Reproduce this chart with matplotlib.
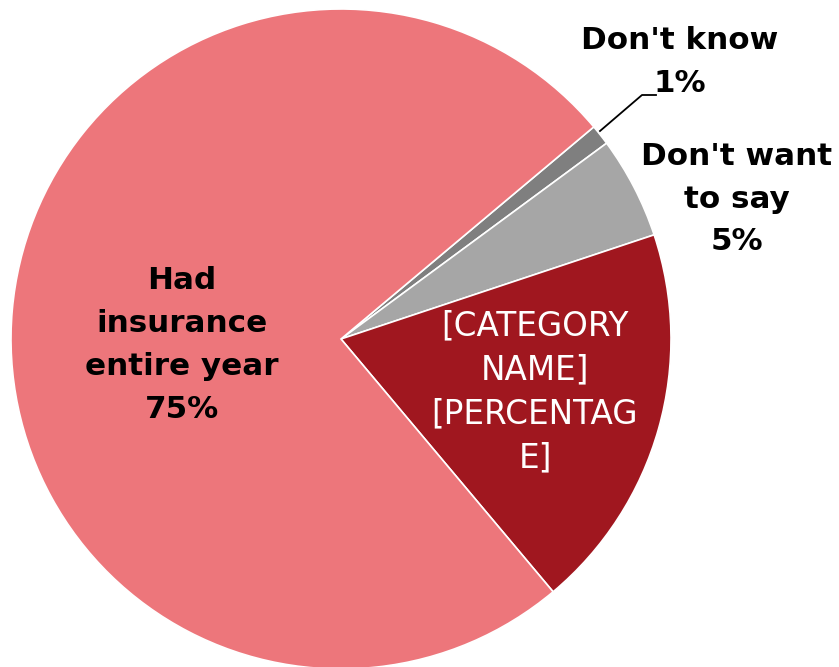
import matplotlib
matplotlib.use("Agg")
import matplotlib.pyplot as plt

# insurance coverage shares, clockwise from the top-right
labels = ["Don't know", "Don't want\nto say", "[CATEGORY\nNAME]", "Had\ninsurance\nentire year"]
shares = [1, 5, 19, 75]
pct_text = ["1%", "5%", "[PERCENTAG\nE]", "75%"]
colors = ["#7F7F7F", "#A6A6A6", "#A0171F", "#ED767B"]

W, H = 839, 667
fig = plt.figure(figsize=(W / 100, H / 100), dpi=100)
ax = fig.add_axes([0, 0, 1, 1])

cx, cy, r = 341, H - 339, 330
ax.pie(shares, colors=colors, startangle=40, counterclock=False,
       center=(cx, cy), radius=r,
       wedgeprops=dict(edgecolor="white", linewidth=1.2))
ax.set_xlim(0, W)
ax.set_ylim(0, H)
ax.set_aspect("equal")
ax.axis("off")

font = dict(family="DejaVu Sans", ha="center", va="center")

# label positions in pixel space (x, y from top)
spots = [(680, 62), (737, 199), (535, 392), (182, 345)]
for lab, pct, (x, y) in zip(labels, pct_text, spots):
    text = lab + "\n" + pct
    if lab.startswith("[CATEGORY"):
        ax.text(x, H - y, text, color="white", fontweight="normal",
                fontsize=23.5, linespacing=1.42, **font)
    else:
        ax.text(x, H - y, text, color="black", fontweight="bold",
                fontsize=22.3, linespacing=1.6, **font)

# leader line for the smallest slice
ax.plot([600, 642, 656], [H - 131, H - 95, H - 95], color="black", lw=1.3)

fig.savefig("out.png", dpi=100)
